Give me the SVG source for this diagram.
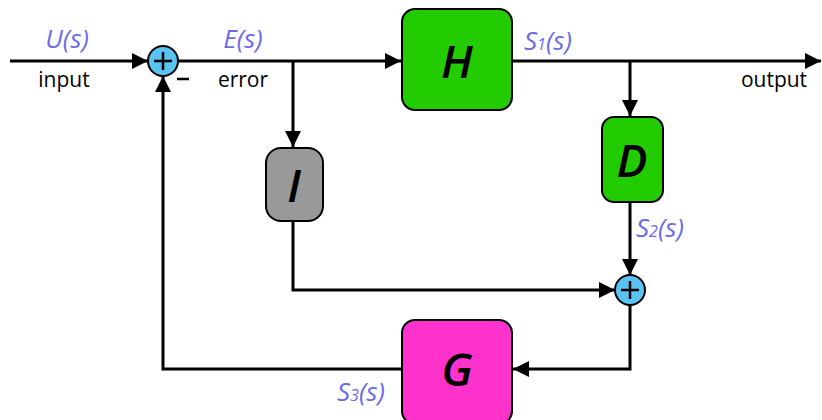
<svg xmlns="http://www.w3.org/2000/svg" width="822" height="420" viewBox="0 0 822 420">
<defs>
<marker id="ah" viewBox="0 0 10 10" refX="10" refY="5" markerWidth="16" markerHeight="16" markerUnits="userSpaceOnUse" orient="auto">
<path d="M0,0 L10,5 L0,10 Z" fill="#000"/>
</marker>
</defs>
<style>
.ln{fill:none;stroke:#000;stroke-width:3}
.box{stroke:#000;stroke-width:2}
.sum{fill:#5ac3f2;stroke:#000;stroke-width:2}
.sig{font-family:"Open Sans","Noto Sans",sans-serif;font-style:italic;font-size:26px;fill:#6b6be6}
.lab{font-family:"Open Sans","Noto Sans",sans-serif;font-size:21px;fill:#000}
.bl{font-family:"Open Sans","Noto Sans",sans-serif;font-style:italic;font-weight:600;font-size:46px;fill:#000;text-anchor:middle}
.sub{font-size:16px}
</style>
<rect width="822" height="420" fill="#fff"/>
<g id="connectors">
<path class="ln" d="M10,61 H148" marker-end="url(#ah)"/>
<path class="ln" d="M178,61 H401" marker-end="url(#ah)"/>
<path class="ln" d="M512,61 H821" marker-end="url(#ah)"/>
<path class="ln" d="M293,61 V147" marker-end="url(#ah)"/>
<path class="ln" d="M630,61 V116" marker-end="url(#ah)"/>
<path class="ln" d="M630,202 V275" marker-end="url(#ah)"/>
<path class="ln" d="M293,221 V290 H615" marker-end="url(#ah)"/>
<path class="ln" d="M630,305 V369 H513" marker-end="url(#ah)"/>
<path class="ln" d="M402,369 H163 V76" marker-end="url(#ah)"/>
</g>
<g id="sum1">
<circle class="sum" cx="163" cy="61" r="15"/>
<path d="M154,61 H172 M163,52 V70" stroke="#000" stroke-width="2.5"/>
<path d="M177,79 H189" stroke="#000" stroke-width="2.5"/>
</g>
<g id="sum2">
<circle class="sum" cx="630" cy="290" r="15"/>
<path d="M621,290 H639 M630,281 V299" stroke="#000" stroke-width="2.5"/>
</g>
<g id="H">
<rect class="box" x="402" y="9" width="110" height="101" rx="13" fill="#22cc00"/>
<text class="bl" x="457" y="78">H</text>
</g>
<g id="I">
<rect class="box" x="266" y="148" width="57" height="73" rx="15" fill="#999999"/>
<text class="bl" x="294" y="202">I</text>
</g>
<g id="D">
<rect class="box" x="602" y="117" width="61" height="85" rx="12" fill="#22cc00"/>
<text class="bl" x="632" y="177">D</text>
</g>
<g id="G">
<rect class="box" x="402" y="320" width="110" height="104" rx="13" fill="#ff33cc"/>
<text class="bl" x="457" y="386">G</text>
</g>
<g id="labels">
<text class="sig" x="67" y="48" text-anchor="middle">U(s)</text>
<text class="sig" x="243" y="48" text-anchor="middle">E(s)</text>
<text class="sig" x="524" y="50">S<tspan class="sub">1</tspan>(s)</text>
<text class="sig" x="636" y="237">S<tspan class="sub">2</tspan>(s)</text>
<text class="sig" x="337" y="401">S<tspan class="sub">3</tspan>(s)</text>
<text class="lab" x="64" y="87" text-anchor="middle">input</text>
<text class="lab" x="243" y="87" text-anchor="middle">error</text>
<text class="lab" x="774" y="87" text-anchor="middle">output</text>
</g>
</svg>
